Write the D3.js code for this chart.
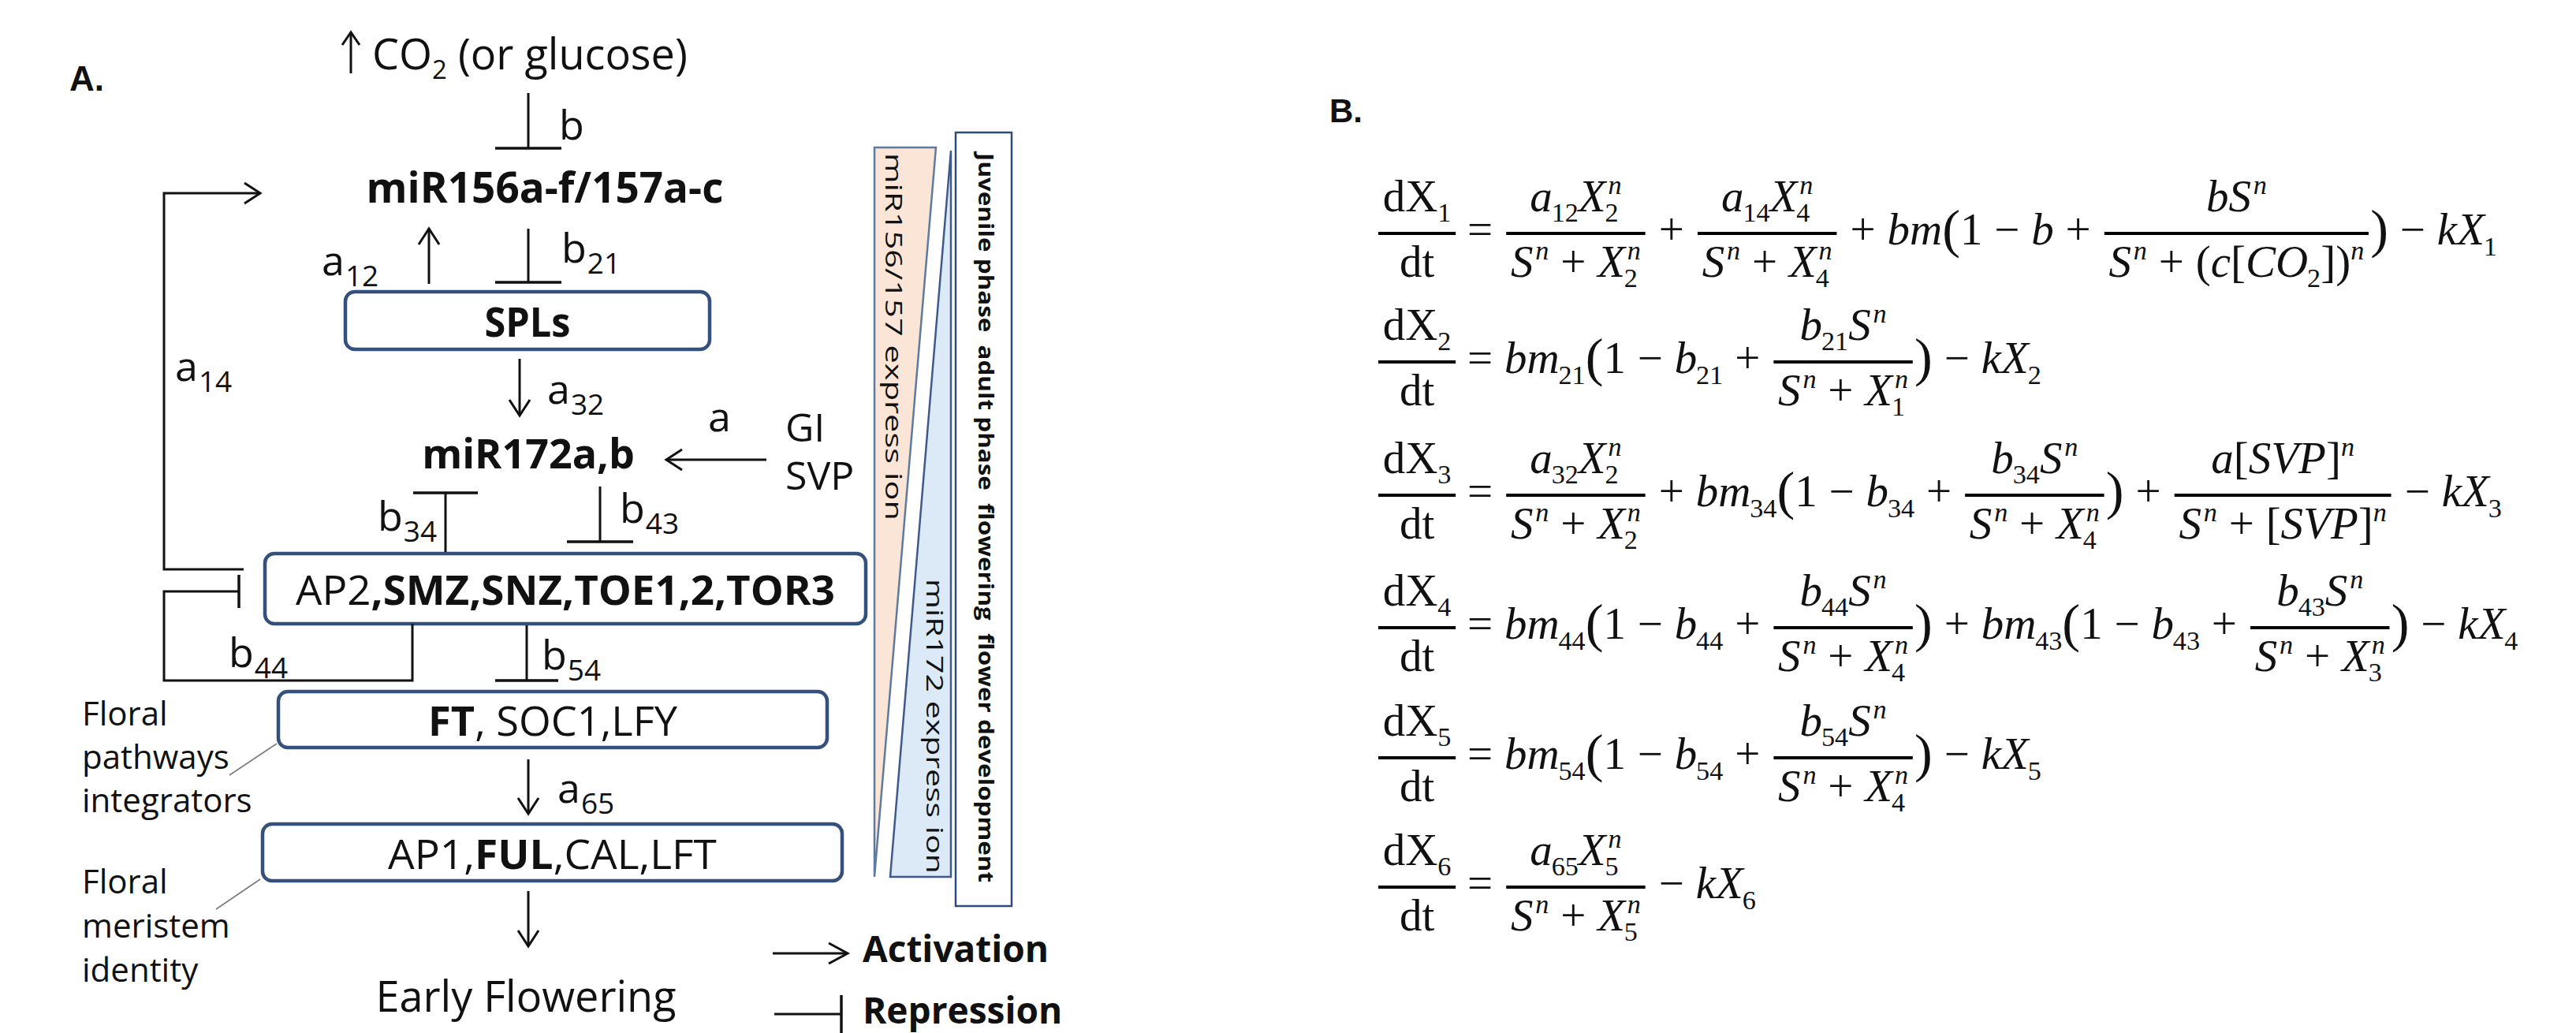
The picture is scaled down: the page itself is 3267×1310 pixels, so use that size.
<!DOCTYPE html>
<html>
<head>
<meta charset="utf-8">
<script src="https://cdn.jsdelivr.net/npm/d3@7"></script>
<style>
  html, body { margin: 0; padding: 0; background: #fff; }
  svg { display: block; }
</style>
</head>
<body>
<div id="chart"></div>
<script>
const width = 3267;
const height = 1310;

// ---------- panel A : regulatory network ----------
const boxedNodes = [
  [["SPLs", 1]],
  [["AP2", 0], [",SMZ,SNZ,TOE1,2,TOR3", 1]],
  [["FT", 1], [", SOC1,LFY", 0]],
  [["AP1,", 0], ["FUL", 1], [",CAL,LFT", 0]]
];
const freeNodes = ["miR156a-f/157a-c", "miR172a,b"];
const stimulus = ["CO", "2", " (or glucose)"];
const inputs = ["GI", "SVP"];
const outcome = "Early Flowering";
const edgeKinds = ["rep", "act", "rep", "act", "act", "act", "rep", "rep", "rep", "rep", "act", "act"];
const edgeNames = [["b", ""], ["a", "12"], ["b", "21"], ["a", "14"], ["a", "32"], ["a", ""],
                   ["b", "34"], ["b", "43"], ["b", "44"], ["b", "54"], ["a", "65"], ["", ""]];
const sideNotes = [["Floral", "pathways", "integrators"], ["Floral", "meristem", "identity"]];
const expressionLabels = ["miR156/157 express ion", "miR172 express ion"];
const phaseLabel = "Juvenile phase  adult phase  flowering  flower development";
const legendLabels = ["Activation", "Repression"];

// ---------- panel B : model equations ----------
const species = ["1", "2", "3", "4", "5", "6"];
const rhs = [
  [{f: ["a_{12}X_{2}^{n}", "S^{n}+X_{2}^{n}"]}, "+", {f: ["a_{14}X_{4}^{n}", "S^{n}+X_{4}^{n}"]},
   "+bm", {p: "("}, "1−b+", {f: ["bS^{n}", "S^{n}+(c[CO_{2}])^{n}"]}, {p: ")"}, "−kX_{1}"],
  ["bm_{21}", {p: "("}, "1−b_{21}+", {f: ["b_{21}S^{n}", "S^{n}+X_{1}^{n}"]}, {p: ")"}, "−kX_{2}"],
  [{f: ["a_{32}X_{2}^{n}", "S^{n}+X_{2}^{n}"]}, "+bm_{34}", {p: "("}, "1−b_{34}+",
   {f: ["b_{34}S^{n}", "S^{n}+X_{4}^{n}"]}, {p: ")"}, "+", {f: ["a[SVP]^{n}", "S^{n}+[SVP]^{n}"]}, "−kX_{3}"],
  ["bm_{44}", {p: "("}, "1−b_{44}+", {f: ["b_{44}S^{n}", "S^{n}+X_{4}^{n}"]}, {p: ")"},
   "+bm_{43}", {p: "("}, "1−b_{43}+", {f: ["b_{43}S^{n}", "S^{n}+X_{3}^{n}"]}, {p: ")"}, "−kX_{4}"],
  ["bm_{54}", {p: "("}, "1−b_{54}+", {f: ["b_{54}S^{n}", "S^{n}+X_{4}^{n}"]}, {p: ")"}, "−kX_{5}"],
  [{f: ["a_{65}X_{5}^{n}", "S^{n}+X_{5}^{n}"]}, "−kX_{6}"]
];

// ---------- layout ----------
const sans = "'Open Sans', 'Noto Sans', sans-serif";
const serif = "'Liberation Serif', 'Times New Roman', serif";
const ink = "#111";
const boxStroke = "#34507c";

// fit = width the label takes inside its box
const boxLayout = [
  {x: 438, y: 370, w: 462, h: 73, size: 52, fit: 109},
  {x: 336, y: 702, w: 762, h: 89, size: 52, fit: 684},
  {x: 353, y: 877, w: 696, h: 71, size: 52, fit: 316},
  {x: 333, y: 1045, w: 735, h: 72, size: 52, fit: 417}
];
const freeLayout = [{cx: 691, y: 257, size: 53}, {cx: 670, y: 594, size: 52}];
const edgePaths = [
  [[670, 118], [670, 188]],
  [[544, 360], [544, 290]],
  [[670, 290], [670, 358]],
  [[309, 722], [208, 722], [208, 245], [330, 245]],
  [[659, 455], [659, 527]],
  [[972, 583], [845, 583]],
  [[565, 700], [565, 625]],
  [[761, 617], [761, 687]],
  [[523, 791], [523, 863], [208, 863], [208, 750], [303, 750]],
  [[668, 793], [668, 863]],
  [[670, 963], [670, 1032]],
  [[670, 1130], [670, 1200]]
];
const barHalf = [42, 0, 42, 0, 0, 0, 41, 42, 21, 40, 0, 0];
const edgeLabelAt = [[709, 177], [408, 349], [712, 333], [222, 483], [694, 512], [898, 547],
                     [479, 673], [786, 663], [290, 846], [687, 849], [707, 1018], null];
const eqAxes = [296, 459, 628, 796, 961, 1125];
const M = 57;

const svg = d3.select("#chart").append("svg")
  .attr("width", width)
  .attr("height", height)
  .attr("viewBox", `0 0 ${width} ${height}`);

svg.append("rect").attr("width", width).attr("height", height).attr("fill", "#fff");

const line = d3.line();

function sansText(g, x, y, size, anchor, weight) {
  return g.append("text")
    .attr("x", x).attr("y", y)
    .attr("font-family", sans)
    .attr("font-size", size)
    .attr("font-weight", weight || 400)
    .attr("text-anchor", anchor || "start")
    .attr("fill", ink);
}

// line with an open arrow head (act) or a flat bar (rep) at its end
function edge(g, pts, kind, half, head) {
  g.append("path").attr("d", line(pts))
    .attr("fill", "none").attr("stroke", ink).attr("stroke-width", 3);
  const [x2, y2] = pts[pts.length - 1];
  const [x1, y1] = pts[pts.length - 2];
  const len = Math.hypot(x2 - x1, y2 - y1);
  const ux = (x2 - x1) / len, uy = (y2 - y1) / len;
  const px = -uy, py = ux;
  if (kind === "act") {
    const back = head ? head[0] : 20, w = head ? head[1] : 13;
    g.append("path")
      .attr("d", line([[x2 - ux * back + px * w, y2 - uy * back + py * w], [x2, y2],
                       [x2 - ux * back - px * w, y2 - uy * back - py * w]]))
      .attr("fill", "none").attr("stroke", ink).attr("stroke-width", 3)
      .attr("stroke-linejoin", "miter");
  } else {
    g.append("path")
      .attr("d", line([[x2 + px * half, y2 + py * half], [x2 - px * half, y2 - py * half]]))
      .attr("stroke", ink).attr("stroke-width", 3.5);
  }
}

function draw() {
  const gA = svg.append("g");

  sansText(gA, 88, 115, 44, "start", 700).attr("font-family", "'Liberation Sans', Arial, sans-serif").text("A.");

  // stimulus
  edge(gA, [[445, 93], [445, 41]], "act", 0, [16, 11]);
  const st = sansText(gA, 472, 88, 54);
  st.append("tspan").text(stimulus[0]);
  st.append("tspan").attr("font-size", 33).attr("dy", 12).text(stimulus[1]);
  st.append("tspan").attr("dy", -12).text(stimulus[2]);

  // boxed nodes, label squeezed/stretched horizontally to the box text width
  boxedNodes.forEach((parts, i) => {
    const b = boxLayout[i];
    gA.append("rect")
      .attr("x", b.x).attr("y", b.y).attr("width", b.w).attr("height", b.h)
      .attr("rx", 12).attr("ry", 12)
      .attr("fill", "#fff").attr("stroke", boxStroke).attr("stroke-width", 4.5);
    const g = gA.append("g");
    const t = sansText(g, 0, 0, b.size, "middle");
    parts.forEach(p => t.append("tspan").attr("font-weight", p[1] ? 700 : 400).text(p[0]));
    const k = b.fit / t.node().getComputedTextLength();
    g.attr("transform", `translate(${b.x + b.w / 2},${b.y + b.h / 2 + b.size * 0.357 + 2}) scale(${k},1)`);
  });

  freeNodes.forEach((name, i) => {
    const f = freeLayout[i];
    sansText(gA, f.cx, f.y, f.size, "middle", 700).text(name);
  });

  edgePaths.forEach((pts, i) => edge(gA, pts, edgeKinds[i], barHalf[i]));

  // edge parameters with subscripts
  edgeNames.forEach((n, i) => {
    const at = edgeLabelAt[i];
    if (!at) return;
    const base = sansText(gA, at[0], at[1], 52).text(n[0]);
    const w = base.node().getComputedTextLength();
    if (n[1]) sansText(gA, at[0] + w + 1, at[1] + 14, 37).text(n[1]);
  });

  inputs.forEach((s, i) => sansText(gA, 996, i ? 621 : 560, 50).text(s));

  // side notes with leader lines
  const noteBase = [[920, 975, 1030], [1133, 1189, 1245]];
  sideNotes.forEach((lines, i) => {
    lines.forEach((s, j) => sansText(gA, 104, noteBase[i][j], 42).text(s));
  });
  [[[291, 983], [351, 943]], [[274, 1153], [330, 1115]]].forEach(p =>
    gA.append("path").attr("d", line(p)).attr("stroke", "#7a7a7a").attr("stroke-width", 1.6));

  sansText(gA, 667, 1283, 54, "middle").text(outcome);

  // expression wedges and phase bar
  gA.append("path").attr("d", line([[1109, 187], [1187, 187], [1109, 1112]]) + "Z")
    .attr("fill", "#fbe5d6").attr("stroke", "#5d7aa0").attr("stroke-width", 2.5);
  gA.append("path").attr("d", line([[1206, 191], [1206, 1112], [1129, 1112]]) + "Z")
    .attr("fill", "#dce9f6").attr("stroke", "#3e5a8c").attr("stroke-width", 2.5);
  gA.append("rect").attr("x", 1212).attr("y", 168).attr("width", 71).attr("height", 981)
    .attr("fill", "#fff").attr("stroke", "#2f4b7c").attr("stroke-width", 2.5);

  const vert = [
    {s: expressionLabels[0], x: 1123, y: 194, len: 466, size: 30, w: 400},
    {s: expressionLabels[1], x: 1175, y: 734, len: 374, size: 30, w: 400},
    {s: phaseLabel, x: 1241, y: 194, len: 925, size: 27, w: 700}
  ];
  vert.forEach(v => {
    gA.append("text")
      .attr("transform", `translate(${v.x},${v.y}) rotate(90)`)
      .attr("font-family", sans).attr("font-size", v.size).attr("font-weight", v.w)
      .attr("fill", ink)
      .attr("textLength", v.len).attr("lengthAdjust", "spacingAndGlyphs")
      .attr("xml:space", "preserve")
      .text(v.s);
  });

  // legend
  edge(gA, [[980, 1209], [1075, 1209]], "act", 0, [24, 13]);
  edge(gA, [[982, 1286], [1067, 1286]], "rep", 24);
  legendLabels.forEach((s, i) => sansText(gA, 1094, i ? 1298 : 1220, 46, "start", 700).text(s));

  // ---------- panel B ----------
  const gB = svg.append("g");
  sansText(gB, 1686, 155, 42, "start", 700).attr("font-family", "'Liberation Sans', Arial, sans-serif").text("B.");

  species.forEach((sp, i) => {
    drawEquation(gB, ["dX_{" + sp + "}", "dt"], rhs[i], 1748, eqAxes[i], M);
  });
}

// ---------- tiny math typesetter ----------
function parseRun(s) {
  const atoms = [];
  let i = 0;
  const group = () => {
    if (s[i] === "{") {
      const j = s.indexOf("}", i);
      const r = s.slice(i + 1, j);
      i = j + 1;
      return r;
    }
    return s[i++];
  };
  while (i < s.length) {
    const c = s[i];
    if (c === "_") { i++; atoms[atoms.length - 1].sub = group(); }
    else if (c === "^") { i++; atoms[atoms.length - 1].sup = group(); }
    else { atoms.push({base: c}); i++; }
  }
  return atoms;
}

const isLetter = c => /[A-Za-z]/.test(c);

function mtext(g, str, x, y, size, italic) {
  const t = g.append("text")
    .attr("x", x).attr("y", y)
    .attr("font-family", serif).attr("font-size", size)
    .attr("font-style", italic ? "italic" : "normal")
    .attr("fill", ink).text(str);
  return t.node().getComputedTextLength();
}

function drawRun(g, s, x, y, size, upright) {
  let cx = x;
  parseRun(s).forEach(a => {
    const op = "+−=".includes(a.base);
    if (op) cx += size * 0.26;
    const it = !upright && isLetter(a.base);
    cx += mtext(g, a.base, cx, y, size, it);
    const ss = size * 0.6;
    let sw = 0;
    if (a.sup) {
      const k = it ? size * 0.05 : 0;
      sw = Math.max(sw, k + mtext(g, a.sup, cx + k, y - size * 0.38, ss, !upright && isLetter(a.sup)));
    }
    if (a.sub) {
      const k = it ? -size * 0.02 : 0;
      sw = Math.max(sw, k + mtext(g, a.sub, cx + k, y + size * 0.24, ss, !upright && isLetter(a.sub[0])));
    }
    cx += sw;
    if (op) cx += size * 0.26;
  });
  return cx - x;
}

function drawFrac(g, f, x, axis, size, upright) {
  const gn = g.append("g"), gd = g.append("g");
  const wn = drawRun(gn, f[0], 0, 0, size, upright);
  const wd = drawRun(gd, f[1], 0, 0, size, upright);
  const pad = size * 0.1;
  const w = Math.max(wn, wd) + 2 * pad;
  gn.attr("transform", `translate(${x + (w - wn) / 2},${axis - size * 0.5})`);
  gd.attr("transform", `translate(${x + (w - wd) / 2},${axis + size * 0.96})`);
  g.append("rect").attr("x", x).attr("y", axis - 2).attr("width", w).attr("height", 4).attr("fill", "#000");
  return w;
}

function drawEquation(g, lhsFrac, items, x0, axis, size) {
  let cx = x0;
  const base = axis + size * 0.25;
  cx += drawFrac(g, lhsFrac, cx, axis, size, true);
  cx += drawRun(g, "=", cx, base, size, true);
  items.forEach(it => {
    if (typeof it === "string") cx += drawRun(g, it, cx, base, size, false);
    else if (it.f) cx += drawFrac(g, it.f, cx + size * 0.04, axis, size, false) + size * 0.08;
    else if (it.p) {
      const ps = size * 1.2;
      cx += mtext(g, it.p, cx, axis + ps * 0.25, ps, false);
    }
  });
  return cx - x0;
}

document.fonts.ready.then(draw);
</script>
</body>
</html>
